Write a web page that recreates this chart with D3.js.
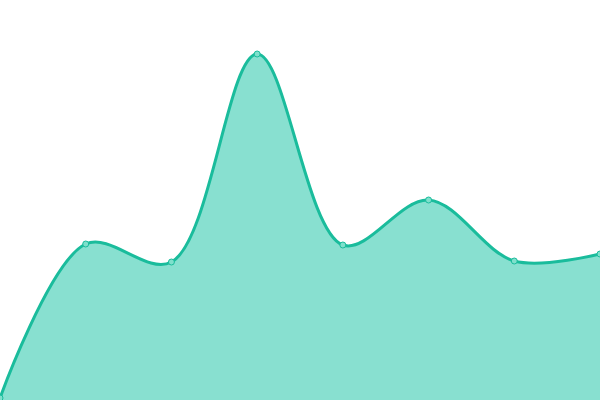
<!DOCTYPE html>
<html>
<head>
<meta charset="utf-8">
<script src="https://cdn.jsdelivr.net/npm/d3@7"></script>
<style>
  html, body { margin: 0; padding: 0; background: #fff; }
</style>
</head>
<body>
<div id="chart"></div>
<script>
const width = 600;
const height = 400;

// values
const categories = [0, 1, 2, 3, 4, 5, 6, 7];
const values = [2, 156, 138, 346, 155, 200, 139, 146];

const lineColor = "#1abc9c";
const areaColor = "#88e0d0";

const x = d3.scaleLinear().domain([0, categories.length - 1]).range([0, width]);
const y = d3.scaleLinear().domain([0, 400]).range([height, 0]);

const data = categories.map((c, i) => ({ c, v: values[i] }));

const svg = d3
  .select("#chart")
  .append("svg")
  .attr("width", width)
  .attr("height", height);

const area = d3
  .area()
  .x((d) => x(d.c))
  .y0(height)
  .y1((d) => y(d.v))
  .curve(d3.curveCatmullRom);

const line = d3
  .line()
  .x((d) => x(d.c))
  .y((d) => y(d.v))
  .curve(d3.curveCatmullRom);

svg.append("path").datum(data).attr("d", area).attr("fill", areaColor);

svg
  .append("path")
  .datum(data)
  .attr("d", line)
  .attr("fill", "none")
  .attr("stroke", lineColor)
  .attr("stroke-width", 3);

svg
  .selectAll(".dot")
  .data(data)
  .join("circle")
  .attr("class", "dot")
  .attr("cx", (d) => x(d.c))
  .attr("cy", (d) => y(d.v))
  .attr("r", 3)
  .attr("fill", "#7fe0cc")
  .attr("stroke", lineColor)
  .attr("stroke-width", 1);
</script>
</body>
</html>
